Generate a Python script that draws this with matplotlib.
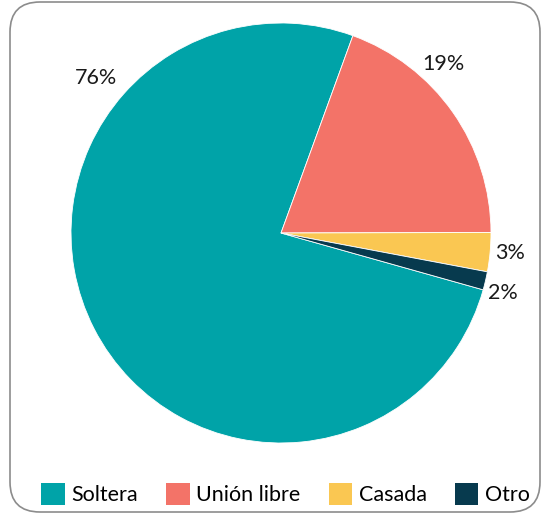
import matplotlib
matplotlib.use("Agg")
import matplotlib.pyplot as plt
from matplotlib.patches import FancyBboxPatch, Patch

labels = ["Soltera", "Unión libre", "Casada", "Otro"]
values = [76.2, 19.4, 3.0, 1.4]
colors = ["#00A3A8", "#F37368", "#FAC752", "#073A4E"]
pct_text = ["76%", "19%", "3%", "2%"]

W, H = 546, 521
plt.rcParams["font.family"] = ["Lato", "DejaVu Sans"]

fig = plt.figure(figsize=(W / 100, H / 100), dpi=100)

# rounded frame around the whole chart
frame = FancyBboxPatch((10, 9), 530, 510, boxstyle="round,pad=0,rounding_size=30",
                       transform=None, facecolor="none", edgecolor="#8c8c8c",
                       linewidth=1.2, zorder=-1)
fig.patches.append(frame)

ax = fig.add_axes([0, 0, 1, 1])
ax.patch.set_visible(False)
cx, cy, r = 281, H - 233, 210
wedges, _ = ax.pie(values, colors=colors, startangle=-15.7, counterclock=False,
                   center=(cx, cy), radius=r, frame=True,
                   wedgeprops=dict(linewidth=0.6, edgecolor="white"))
ax.set_xlim(0, W)
ax.set_ylim(0, H)
ax.set_aspect("equal")
ax.axis("off")

label_pos = [(96, 78), (443, 64), (510, 253), (503, 293)]
for txt, (px, py) in zip(pct_text, label_pos):
    ax.text(px, H - py, txt, fontsize=15.5, ha="center", va="center", color="#1a1a1a")

handles = [Patch(facecolor=c, edgecolor="none") for c in colors]
fig.legend(handles, labels, loc="center", bbox_to_anchor=(0.523, 1 - 494 / H),
           ncol=4, frameon=False, fontsize=15.5, handlelength=1.1, handleheight=1.2,
           handletextpad=0.3, columnspacing=1.3)

fig.savefig("out.png", dpi=100)
